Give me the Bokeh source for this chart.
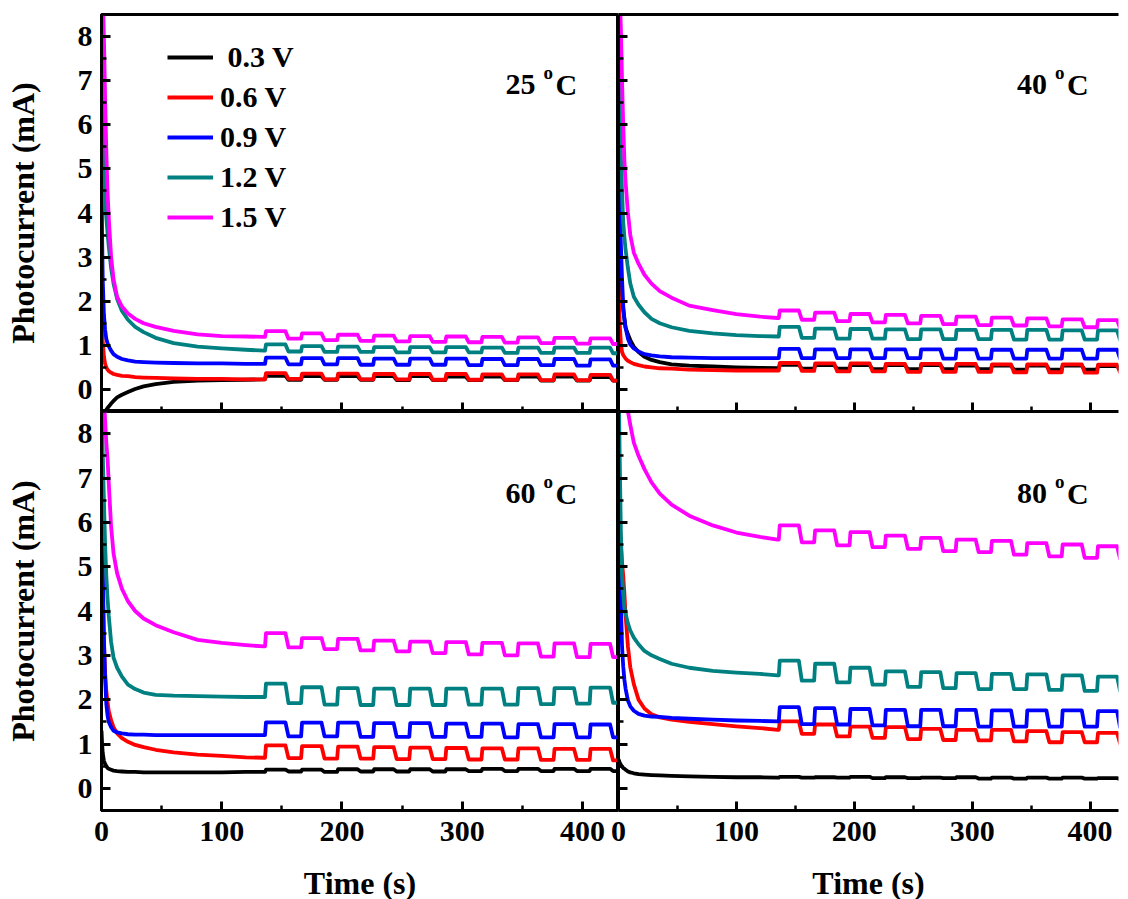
from bokeh.plotting import figure
from bokeh.layouts import gridplot
from bokeh.models import (Range1d, SingleIntervalTicker, FixedTicker, LinearAxis,
                          Legend, LegendItem, Label)
from bokeh.embed import file_html
from bokeh.resources import INLINE

FONT = "Liberation Serif"

# ---------------- data ----------------
# time grid of the initial decay part (s)
T_GRID = [0, 0.5, 1, 2, 3, 4, 5, 6, 8, 10, 13, 17, 22, 28, 35, 45, 60, 80, 100, 120, 135]
# light on / light off instants of the chopped part (s)
SW_ON = [136, 166, 196, 226, 256, 286, 316, 346, 376, 406]
SW_OFF = [153, 183, 213, 243, 273, 303, 333, 363, 393, 423]
RISE = 0.8
FALL = 2.5
T_END = 430

TEMPS = ["25", "40", "60", "80"]
VOLTS = [" 0.3 V", "0.6 V", "0.9 V", "1.2 V", "1.5 V"]
COLORS = ["#000000", "#FF0000", "#0000FF", "#008080", "#FF00FF"]

# ---- 25 oC ----
D25_03 = [-0.7, -0.66, -0.62, -0.56, -0.5, -0.46, -0.42, -0.39, -0.32, -0.26, -0.18, -0.12, -0.06, 0.01, 0.07, 0.12, 0.17, 0.2, 0.21, 0.22, 0.23]
D25_06 = [1.8, 1.4, 1.1, 0.75, 0.58, 0.5, 0.45, 0.42, 0.38, 0.35, 0.33, 0.31, 0.3, 0.28, 0.27, 0.26, 0.25, 0.24, 0.24, 0.23, 0.23]
D25_09 = [5.1, 3.5, 2.5, 1.7, 1.35, 1.15, 1.05, 0.98, 0.88, 0.8, 0.74, 0.69, 0.66, 0.63, 0.62, 0.61, 0.6, 0.59, 0.59, 0.58, 0.58]
D25_12 = [7.0, 6.5, 6.0, 5.0, 4.4, 3.9, 3.55, 3.25, 2.75, 2.4, 2.05, 1.78, 1.58, 1.42, 1.3, 1.17, 1.05, 0.97, 0.93, 0.9, 0.88]
D25_15 = [10.0, 9.5, 9.0, 8.0, 6.6, 5.4, 4.5, 3.9, 3.0, 2.5, 2.1, 1.88, 1.72, 1.6, 1.5, 1.42, 1.33, 1.25, 1.21, 1.2, 1.19]
ON25_03 = [0.31, 0.30, 0.30, 0.30, 0.30, 0.29, 0.29, 0.29, 0.29, 0.28]
OFF25_03 = [0.22, 0.22, 0.22, 0.21, 0.21, 0.21, 0.21, 0.20, 0.20, 0.20]
ON25_06 = [0.37, 0.36, 0.36, 0.35, 0.35, 0.35, 0.34, 0.34, 0.34, 0.33]
OFF25_06 = [0.24, 0.23, 0.23, 0.23, 0.22, 0.22, 0.22, 0.21, 0.21, 0.20]
ON25_09 = [0.72, 0.71, 0.71, 0.70, 0.70, 0.70, 0.69, 0.69, 0.69, 0.68]
OFF25_09 = [0.57, 0.57, 0.56, 0.56, 0.56, 0.55, 0.55, 0.55, 0.54, 0.54]
ON25_12 = [1.02, 0.98, 0.97, 0.96, 0.96, 0.96, 0.95, 0.95, 0.95, 0.95]
OFF25_12 = [0.86, 0.85, 0.85, 0.84, 0.84, 0.84, 0.83, 0.83, 0.83, 0.82]
ON25_15 = [1.32, 1.27, 1.24, 1.22, 1.21, 1.20, 1.19, 1.18, 1.17, 1.16]
OFF25_15 = [1.15, 1.12, 1.10, 1.09, 1.08, 1.07, 1.06, 1.05, 1.04, 1.03]

# ---- 40 oC ----
D40_03 = [4.0, 3.6, 3.2, 2.6, 2.1, 1.8, 1.6, 1.4, 1.25, 1.12, 0.97, 0.85, 0.74, 0.67, 0.62, 0.57, 0.54, 0.52, 0.5, 0.49, 0.48]
D40_06 = [2.5, 1.9, 1.5, 1.05, 0.85, 0.78, 0.74, 0.7, 0.65, 0.62, 0.58, 0.55, 0.52, 0.5, 0.48, 0.47, 0.45, 0.44, 0.43, 0.43, 0.43]
D40_09 = [6.5, 5.4, 4.5, 3.3, 2.5, 1.9, 1.6, 1.4, 1.15, 1.02, 0.93, 0.86, 0.8, 0.77, 0.75, 0.73, 0.72, 0.71, 0.71, 0.71, 0.71]
D40_12 = [8.0, 7.2, 6.5, 5.3, 4.5, 3.8, 3.45, 3.17, 2.75, 2.4, 2.1, 1.92, 1.75, 1.6, 1.5, 1.41, 1.33, 1.27, 1.23, 1.21, 1.2]
D40_15 = [10.0, 9.5, 9.0, 8.2, 7.0, 6.0, 5.2, 4.7, 4.0, 3.5, 3.1, 2.85, 2.6, 2.4, 2.23, 2.08, 1.9, 1.8, 1.71, 1.65, 1.62]
ON40_03 = [0.56, 0.55, 0.55, 0.55, 0.55, 0.54, 0.54, 0.54, 0.54, 0.53]
OFF40_03 = [0.47, 0.47, 0.46, 0.46, 0.46, 0.46, 0.45, 0.45, 0.45, 0.45]
ON40_06 = [0.60, 0.59, 0.59, 0.58, 0.58, 0.58, 0.57, 0.57, 0.57, 0.56]
OFF40_06 = [0.42, 0.41, 0.41, 0.40, 0.40, 0.40, 0.39, 0.39, 0.38, 0.38]
ON40_09 = [0.92, 0.91, 0.91, 0.91, 0.91, 0.91, 0.90, 0.90, 0.90, 0.90]
OFF40_09 = [0.71, 0.71, 0.71, 0.71, 0.70, 0.70, 0.70, 0.70, 0.70, 0.70]
ON40_12 = [1.42, 1.38, 1.37, 1.36, 1.36, 1.35, 1.35, 1.35, 1.34, 1.34]
OFF40_12 = [1.17, 1.15, 1.15, 1.14, 1.14, 1.14, 1.13, 1.13, 1.13, 1.12]
ON40_15 = [1.79, 1.74, 1.71, 1.69, 1.67, 1.65, 1.63, 1.61, 1.59, 1.57]
OFF40_15 = [1.58, 1.55, 1.52, 1.50, 1.48, 1.46, 1.45, 1.43, 1.41, 1.39]

# ---- 60 oC ----
D60_03 = [1.3, 1.0, 0.8, 0.62, 0.55, 0.5, 0.46, 0.44, 0.42, 0.4, 0.39, 0.38, 0.37, 0.37, 0.36, 0.36, 0.36, 0.36, 0.36, 0.37, 0.37]
D60_06 = [8.5, 6.0, 4.6, 3.3, 2.6, 2.2, 1.95, 1.75, 1.53, 1.38, 1.24, 1.13, 1.05, 0.98, 0.93, 0.87, 0.81, 0.76, 0.73, 0.7, 0.69]
D60_09 = [8.6, 6.5, 5.0, 3.4, 2.5, 1.9, 1.65, 1.5, 1.38, 1.3, 1.26, 1.24, 1.22, 1.21, 1.21, 1.2, 1.2, 1.2, 1.2, 1.2, 1.2]
D60_12 = [9.0, 8.45, 7.6, 6.5, 5.5, 4.8, 4.3, 3.9, 3.3, 2.95, 2.72, 2.52, 2.34, 2.24, 2.16, 2.11, 2.09, 2.08, 2.07, 2.06, 2.06]
D60_15 = [10.5, 10.0, 9.5, 8.8, 8.3, 7.8, 7.45, 6.9, 5.9, 5.3, 4.85, 4.5, 4.22, 4.0, 3.83, 3.68, 3.52, 3.35, 3.28, 3.23, 3.2]
ON60_03 = [0.42, 0.42, 0.43, 0.43, 0.43, 0.43, 0.44, 0.44, 0.44, 0.44]
OFF60_03 = [0.38, 0.37, 0.38, 0.38, 0.38, 0.39, 0.39, 0.39, 0.39, 0.39]
ON60_06 = [0.97, 0.95, 0.94, 0.93, 0.92, 0.91, 0.90, 0.90, 0.89, 0.89]
OFF60_06 = [0.68, 0.67, 0.67, 0.66, 0.66, 0.65, 0.65, 0.64, 0.64, 0.63]
ON60_09 = [1.49, 1.48, 1.48, 1.47, 1.47, 1.46, 1.46, 1.45, 1.45, 1.44]
OFF60_09 = [1.17, 1.17, 1.16, 1.16, 1.16, 1.16, 1.15, 1.15, 1.15, 1.15]
ON60_12 = [2.36, 2.28, 2.26, 2.25, 2.25, 2.25, 2.25, 2.26, 2.26, 2.27]
OFF60_12 = [1.92, 1.89, 1.88, 1.88, 1.88, 1.89, 1.89, 1.90, 1.91, 1.93]
ON60_15 = [3.50, 3.39, 3.37, 3.33, 3.31, 3.30, 3.28, 3.27, 3.27, 3.26]
OFF60_15 = [3.18, 3.14, 3.11, 3.09, 3.05, 3.02, 3.00, 2.97, 2.96, 2.96]

# ---- 80 oC ----
D80_03 = [0.65, 0.62, 0.58, 0.53, 0.49, 0.46, 0.44, 0.42, 0.38, 0.36, 0.34, 0.32, 0.31, 0.3, 0.29, 0.28, 0.27, 0.26, 0.25, 0.25, 0.24]
D80_06 = [6.5, 6.25, 6.0, 5.5, 5.1, 4.8, 4.4, 3.9, 3.2, 2.73, 2.35, 2.0, 1.8, 1.67, 1.6, 1.55, 1.5, 1.45, 1.4, 1.36, 1.32]
D80_09 = [9.0, 7.5, 6.0, 4.2, 3.2, 2.75, 2.45, 2.25, 1.98, 1.85, 1.75, 1.68, 1.64, 1.62, 1.61, 1.59, 1.57, 1.55, 1.53, 1.52, 1.51]
D80_12 = [9.5, 8.5, 7.5, 5.8, 4.8, 4.4, 4.1, 3.95, 3.72, 3.56, 3.4, 3.25, 3.1, 3.0, 2.92, 2.81, 2.72, 2.65, 2.61, 2.58, 2.55]
D80_15 = [12.0, 11.7, 11.4, 11.0, 10.5, 10.0, 9.6, 9.2, 8.5, 8.2, 7.8, 7.5, 7.2, 6.9, 6.65, 6.4, 6.15, 5.93, 5.77, 5.67, 5.61]
ON80_03 = [0.26, 0.25, 0.26, 0.25, 0.24, 0.25, 0.24, 0.24, 0.24, 0.23]
OFF80_03 = [0.24, 0.24, 0.23, 0.23, 0.23, 0.22, 0.22, 0.22, 0.22, 0.21]
ON80_06 = [1.51, 1.44, 1.39, 1.38, 1.34, 1.32, 1.32, 1.29, 1.27, 1.25]
OFF80_06 = [1.23, 1.17, 1.14, 1.11, 1.09, 1.08, 1.06, 1.04, 1.04, 1.01]
ON80_09 = [1.83, 1.81, 1.79, 1.77, 1.77, 1.77, 1.76, 1.76, 1.76, 1.74]
OFF80_09 = [1.45, 1.44, 1.42, 1.40, 1.40, 1.39, 1.39, 1.39, 1.39, 1.38]
ON80_12 = [2.88, 2.81, 2.72, 2.64, 2.62, 2.60, 2.58, 2.57, 2.55, 2.52]
OFF80_12 = [2.43, 2.39, 2.34, 2.29, 2.26, 2.24, 2.24, 2.22, 2.20, 2.20]
ON80_15 = [5.93, 5.82, 5.78, 5.70, 5.65, 5.61, 5.58, 5.53, 5.50, 5.46]
OFF80_15 = [5.55, 5.48, 5.44, 5.40, 5.35, 5.33, 5.27, 5.23, 5.20, 5.18]

PANEL_DATA = {
    "25": [(D25_03, ON25_03, OFF25_03), (D25_06, ON25_06, OFF25_06), (D25_09, ON25_09, OFF25_09),
           (D25_12, ON25_12, OFF25_12), (D25_15, ON25_15, OFF25_15)],
    "40": [(D40_03, ON40_03, OFF40_03), (D40_06, ON40_06, OFF40_06), (D40_09, ON40_09, OFF40_09),
           (D40_12, ON40_12, OFF40_12), (D40_15, ON40_15, OFF40_15)],
    "60": [(D60_03, ON60_03, OFF60_03), (D60_06, ON60_06, OFF60_06), (D60_09, ON60_09, OFF60_09),
           (D60_12, ON60_12, OFF60_12), (D60_15, ON60_15, OFF60_15)],
    "80": [(D80_03, ON80_03, OFF80_03), (D80_06, ON80_06, OFF80_06), (D80_09, ON80_09, OFF80_09),
           (D80_12, ON80_12, OFF80_12), (D80_15, ON80_15, OFF80_15)],
}


def trace(decay, on, off):
    t = list(T_GRID)
    y = list(decay)
    prev = decay[-1]
    for k in range(len(SW_ON)):
        t += [SW_ON[k], SW_ON[k] + RISE, SW_OFF[k], SW_OFF[k] + FALL]
        y += [prev, on[k], on[k], off[k]]
        prev = off[k]
    t.append(T_END)
    y.append(prev)
    return t, y


# ---------------- layout ----------------
FW_L, FW_R = 517, 510
FH_T, FH_B = 397, 399
X_MAX_L = 430
X_MAX_R = X_MAX_L * FW_R / FW_L
TICK_FS = "30px"
LINE_W = 3.8


def style_axis(ax, labels, standoff=7):
    ax.axis_line_width = 3
    ax.axis_line_color = "black"
    ax.major_tick_in = 9
    ax.major_tick_out = 0
    ax.minor_tick_in = 5
    ax.minor_tick_out = 0
    ax.major_tick_line_width = 3
    ax.minor_tick_line_width = 2.5
    ax.major_label_text_font = FONT
    ax.major_label_text_font_style = "bold"
    if labels:
        ax.major_label_text_color = "black"
        ax.major_label_text_font_size = TICK_FS
        ax.major_label_standoff = standoff
    else:
        ax.major_label_text_color = None
        ax.major_label_text_font_size = "0px"
        ax.major_label_standoff = 0
    ax.axis_label_text_font = FONT
    ax.axis_label_text_font_style = "bold"
    ax.axis_label_text_font_size = "32px"
    ax.axis_label_text_color = "black"


def make_panel(temp, col, row):
    left = col == 0
    bottom = row == 1
    p = figure(
        frame_width=FW_L if left else FW_R,
        frame_height=FH_B if bottom else FH_T,
        x_range=Range1d(0, X_MAX_L if left else X_MAX_R),
        y_range=Range1d(-0.5, 8.5),
        x_axis_type=None, y_axis_type=None,
        output_backend="svg", toolbar_location=None,
        min_border_left=101 if left else 10,
        min_border_right=0,
        min_border_top=0 if bottom else 14,
        min_border_bottom=88 if bottom else 0,
    )
    p.xgrid.visible = False
    p.ygrid.visible = False
    if left:
        p.outline_line_color = "black"
        p.outline_line_width = 3
    else:
        # right column: its canvas overlaps the left column by 10 px, so it is transparent
        p.outline_line_color = None
        p.background_fill_color = None
        p.border_fill_color = None
        p.margin = (0, 0, 0, -10)
        top = LinearAxis(ticker=FixedTicker(ticks=[]))
        style_axis(top, False)
        p.add_layout(top, "above")

    xax = LinearAxis(ticker=SingleIntervalTicker(interval=100, num_minor_ticks=2))
    style_axis(xax, bottom, 11)
    if bottom:
        xax.axis_label = "Time (s)"
        xax.axis_label_standoff = 21
    p.add_layout(xax, "below")

    yax = LinearAxis(ticker=SingleIntervalTicker(interval=1, num_minor_ticks=2))
    style_axis(yax, left, 9)
    if left:
        yax.axis_label = "Photocurrent (mA)"
        yax.axis_label_standoff = 34
    p.add_layout(yax, "left")

    rends = []
    for (decay, on, off), color in zip(PANEL_DATA[temp], COLORS):
        t, y = trace(decay, on, off)
        rends.append(p.line(t, y, line_color=color, line_width=LINE_W, line_join="round"))

    # temperature annotation "NN oC"
    ax_x = 336 if left else 338
    ax_y = 6.64 if bottom else 6.91
    base = dict(x=ax_x, y=ax_y, text_font=FONT, text_font_style="bold",
                text_color="black", text_baseline="alphabetic")
    p.add_layout(Label(text=temp, text_font_size="30px", **base))
    p.add_layout(Label(text="o", text_font_size="19px", x_offset=38, y_offset=12, **base))
    p.add_layout(Label(text="C", text_font_size="30px", x_offset=50, **base))

    if temp == "25":
        legend = Legend(
            items=[LegendItem(label=v, renderers=[r]) for v, r in zip(VOLTS, rends)],
            location=(66, 177), glyph_width=46, glyph_height=32, label_height=32,
            spacing=6, padding=0, margin=0, label_standoff=7,
            border_line_color=None, background_fill_alpha=0,
            label_text_font=FONT, label_text_font_style="bold",
            label_text_font_size="30px", label_text_color="black",
        )
        p.add_layout(legend)
    return p


p25 = make_panel("25", 0, 0)
p40 = make_panel("40", 1, 0)
p60 = make_panel("60", 0, 1)
p80 = make_panel("80", 1, 1)

p = gridplot([[p25, p40], [p60, p80]], toolbar_location=None)

open("out.html", "w").write(file_html(p, INLINE))
